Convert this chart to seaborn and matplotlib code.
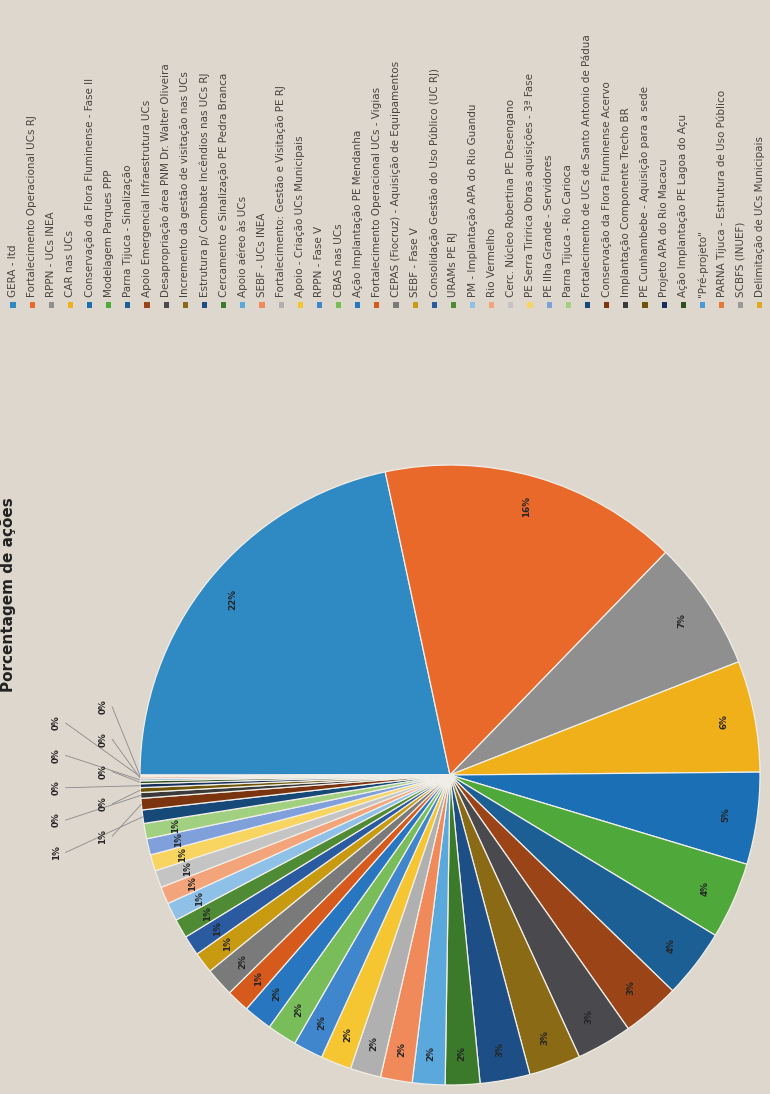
import numpy as np
import matplotlib
matplotlib.use("Agg")
import matplotlib.pyplot as plt
import seaborn as sns

# legend entries, in slice order (clockwise)
actions = [
    "GERA - Itd",
    "Fortalecimento Operacional UCs RJ",
    "RPPN - UCs INEA",
    "CAR nas UCs",
    "Conservação da Flora Fluminense - Fase II",
    "Modelagem Parques PPP",
    "Parna Tijuca - Sinalização",
    "Apoio Emergencial Infraestrutura UCs",
    "Desapropriação área PNM Dr. Walter Oliveira",
    "Incremento da gestão de visitação nas UCs",
    "Estrutura p/ Combate Incêndios nas UCs RJ",
    "Cercamento e Sinalização PE Pedra Branca",
    "Apoio aéreo às UCs",
    "SEBF - UCs INEA",
    "Fortalecimento: Gestão e Visitação PE RJ",
    "Apoio - Criação UCs Municipais",
    "RPPN - Fase V",
    "CBAS nas UCs",
    "Ação Implantação PE Mendanha",
    "Fortalecimento Operacional UCs - Vigias",
    "CEPAS (Fiocruz) - Aquisição de Equipamentos",
    "SEBF - Fase V",
    "Consolidação Gestão do Uso Público (UC RJ)",
    "URAMs PE RJ",
    "PM - Implantação APA do Rio Guandu",
    "Rio Vermelho",
    "Cerc. Núcleo Robertina PE Desengano",
    "PE Serra Tiririca Obras aquisições - 3ª Fase",
    "PE Ilha Grande - Servidores",
    "Parna Tijuca - Rio Carioca",
    "Fortalecimento de UCs de Santo Antonio de Pádua",
    "Conservação da Flora Fluminense Acervo",
    "Implantação Componente Trecho BR",
    "PE Cunhambebe - Aquisição para a sede",
    "Projeto APA do Rio Macacu",
    "Ação Implantação PE Lagoa do Açu",
    "\"Pré-projeto\"",
    "PARNA Tijuca - Estrutura de Uso Público",
    "SCBFS (INUEF)",
    "Delimitação de UCs Municipais",
]

# share of each action, in %
shares = [21.65, 15.6, 6.8, 5.8, 4.8, 4.0, 3.6, 3.0, 2.9, 2.7,
          2.6, 1.8, 1.7, 1.65, 1.6, 1.6, 1.55, 1.55, 1.5, 1.2,
          1.5, 1.1, 1.05, 1.0, 0.95, 0.9, 0.9, 0.85, 0.85, 0.8,
          0.7, 0.6, 0.3, 0.25, 0.2, 0.15, 0.1, 0.1, 0.05, 0.05]

colors = [
    "#2f8ac4", "#e8692a", "#8f8f8f", "#f0b01a", "#1a6fb5", "#4ea83a",
    "#1b5f95", "#9a4418", "#4a4a4e", "#8a6a14", "#1d4f86", "#3a7a2a",
    "#5aa8dc", "#f08a5a", "#b0b0b0", "#f5c532", "#3f86cc", "#78bd5a",
    "#2876c0", "#d65a1c", "#7a7a7a", "#c89a10", "#2a5aa0", "#4f8a34",
    "#8fc0e8", "#f4a47a", "#c4c4c4", "#f8d460", "#7fa0da", "#a0d080",
    "#164878", "#7a3410", "#3a3a3a", "#6e5408", "#182f5c", "#2e4e20",
    "#4a9ad8", "#e87838", "#9a9a9a", "#e0aa20",
]

title = "Porcentagem de ações"

sns.set_theme(style="white")
plt.rcParams["font.family"] = ["DejaVu Sans"]

W, H = 770, 1094
bg = "#ded7ce"
fig = plt.figure(figsize=(W / 100, H / 100), dpi=100, facecolor=bg)

# pixel-coordinate overlay for the (rotated) legend and title
lay = fig.add_axes((0, 0, 1, 1))
lay.set_xlim(0, W)
lay.set_ylim(H, 0)
lay.axis("off")

xs = 13 + 19.15 * np.arange(len(actions))
lay.scatter(xs, np.full(len(xs), 305), s=14, marker="s", c=colors, linewidths=0)
for x, name in zip(xs, actions):
    lay.text(x, 297, name, rotation=90, ha="center", va="bottom",
             fontsize=7.5, color="#48443f")

lay.text(9, 595, title, rotation=90, ha="center", va="center",
         fontsize=11, fontweight="bold", color="#222222")

# pie, drawn already turned a quarter (starts at 9 o'clock, clockwise)
cx, cy, r = 450, 775, 310
pax = fig.add_axes(((cx - r) / W, (H - cy - r) / H, 2 * r / W, 2 * r / H))
wedges, _, autotexts = pax.pie(
    shares, colors=colors, startangle=180, counterclock=False,
    autopct=lambda p: f"{p:.0f}%" if p >= 0.78 else "",
    pctdistance=0.9,
    wedgeprops=dict(edgecolor="#f1eee8", linewidth=0.9),
    textprops=dict(rotation=90, fontsize=6.3, fontweight="bold", color="#262626"),
)
pax.set_xlim(-1, 1)
pax.set_ylim(-1, 1)
pax.axis("off")

# leader-line labels for the thin slices
small = [i for i, s in enumerate(shares) if s < 0.78]
ylab = np.linspace(-0.25, 0.22, len(small))
for k, i in enumerate(small):
    w = wedges[i]
    th = np.deg2rad((w.theta1 + w.theta2) / 2)
    ex, ey = np.cos(th), np.sin(th)
    xl = -1.27 if k % 2 == 0 else -1.12
    pax.plot([ex, xl + 0.03], [ey, ylab[k]], color="#8a8a8a", lw=0.6, clip_on=False)
    pax.text(xl, ylab[k], f"{shares[i] / sum(shares) * 100:.0f}%", rotation=90,
             ha="center", va="center", fontsize=6.3, fontweight="bold", color="#262626")

fig.savefig("out.png", dpi=100, facecolor=bg)
